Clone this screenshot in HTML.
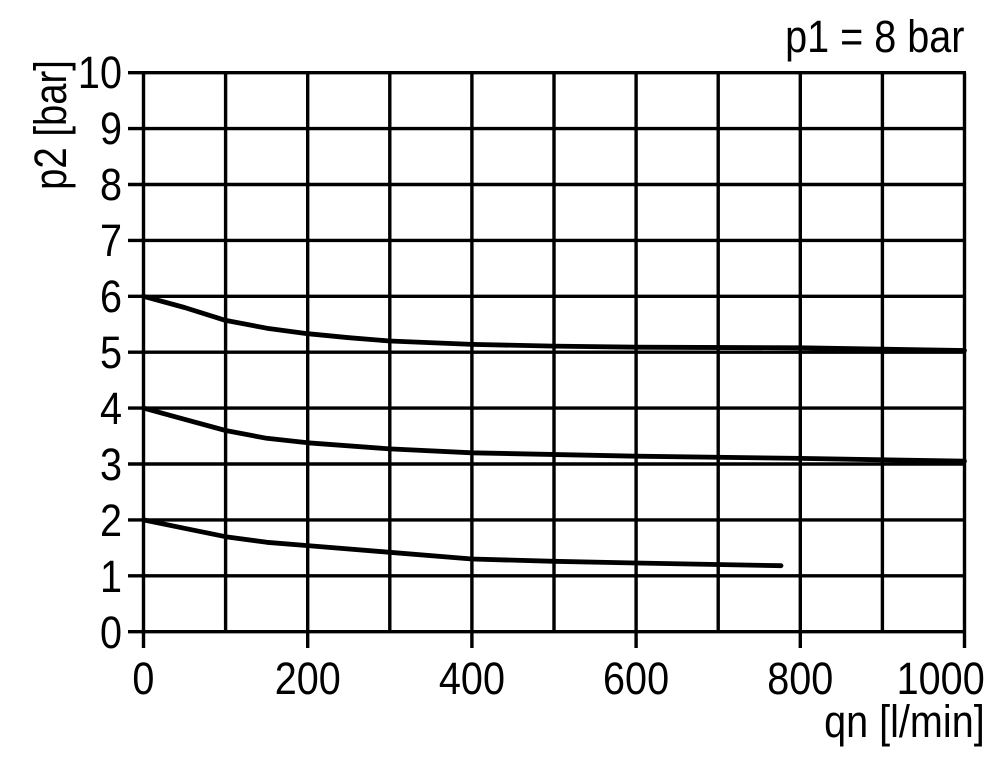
<!DOCTYPE html>
<html><head><style>html,body{margin:0;padding:0;background:#fff}</style></head>
<body>
<svg width="1000" height="764" viewBox="0 0 1000 764" xmlns="http://www.w3.org/2000/svg" font-family="Liberation Sans, sans-serif" fill="#000">
<rect width="1000" height="764" fill="#fff"/>
<g stroke="#000" stroke-width="3.4" fill="none">
<line x1="128" y1="72.7" x2="966" y2="72.7"/>
<line x1="128" y1="128.6" x2="966" y2="128.6"/>
<line x1="128" y1="184.5" x2="966" y2="184.5"/>
<line x1="128" y1="240.4" x2="966" y2="240.4"/>
<line x1="128" y1="296.3" x2="966" y2="296.3"/>
<line x1="128" y1="352.2" x2="966" y2="352.2"/>
<line x1="128" y1="408.1" x2="966" y2="408.1"/>
<line x1="128" y1="464" x2="966" y2="464"/>
<line x1="128" y1="519.9" x2="966" y2="519.9"/>
<line x1="128" y1="575.8" x2="966" y2="575.8"/>
<line x1="128" y1="631.7" x2="966" y2="631.7"/>
<line x1="143.5" y1="72.7" x2="143.5" y2="648"/>
<line x1="225.6" y1="72.7" x2="225.6" y2="631.7"/>
<line x1="307.7" y1="72.7" x2="307.7" y2="648"/>
<line x1="389.8" y1="72.7" x2="389.8" y2="631.7"/>
<line x1="471.9" y1="72.7" x2="471.9" y2="648"/>
<line x1="554" y1="72.7" x2="554" y2="631.7"/>
<line x1="636.1" y1="72.7" x2="636.1" y2="648"/>
<line x1="718.2" y1="72.7" x2="718.2" y2="631.7"/>
<line x1="800.3" y1="72.7" x2="800.3" y2="648"/>
<line x1="882.4" y1="72.7" x2="882.4" y2="631.7"/>
<line x1="964.5" y1="72.7" x2="964.5" y2="648"/>
</g>
<g stroke="#000" stroke-width="4.8" fill="none" stroke-linecap="round" stroke-linejoin="round">
<polyline points="143.5,296.3 184.5,307.5 225.6,320.4 266.7,328.2 307.7,333.7 348.8,337.7 389.8,341 471.9,344.4 554,346.1 636.1,347.2 800.3,347.8 964.5,350.5"/>
<polyline points="143.5,408.1 184.5,419.3 225.6,430.5 266.7,438.3 307.7,442.8 389.8,448.9 471.9,452.8 636.1,456.2 800.3,458.4 964.5,461.2"/>
<polyline points="143.5,519.9 184.5,528.3 225.6,536.7 266.7,542.3 307.7,545.6 389.8,552.3 471.9,559 554,561.3 636.1,563 781,565.7"/>
</g>
<g font-size="45">
<g transform="scale(0.88,1)">
<g text-anchor="end">
<text x="138.6" y="88">10</text>
<text x="138.6" y="144">9</text>
<text x="138.6" y="200">8</text>
<text x="138.6" y="256">7</text>
<text x="138.6" y="312">6</text>
<text x="138.6" y="368">5</text>
<text x="138.6" y="424">4</text>
<text x="138.6" y="480">3</text>
<text x="138.6" y="536">2</text>
<text x="138.6" y="592">1</text>
<text x="138.6" y="648">0</text>
</g>
<g text-anchor="middle">
<text x="163" y="694">0</text>
<text x="349.7" y="694">200</text>
<text x="536.3" y="694">400</text>
<text x="722.8" y="694">600</text>
<text x="909.4" y="694">800</text>
</g>
<text x="1119" y="694" text-anchor="end">1000</text>
<text x="1119" y="737" text-anchor="end">qn [l/min]</text>
<text x="1096" y="52" text-anchor="end">p1 = 8 bar</text>
</g>
<g transform="translate(66,125) rotate(-90) scale(0.85,1)">
<text x="0" y="0" text-anchor="middle">p2 [bar]</text>
</g>
</g>
</svg>
</body></html>
